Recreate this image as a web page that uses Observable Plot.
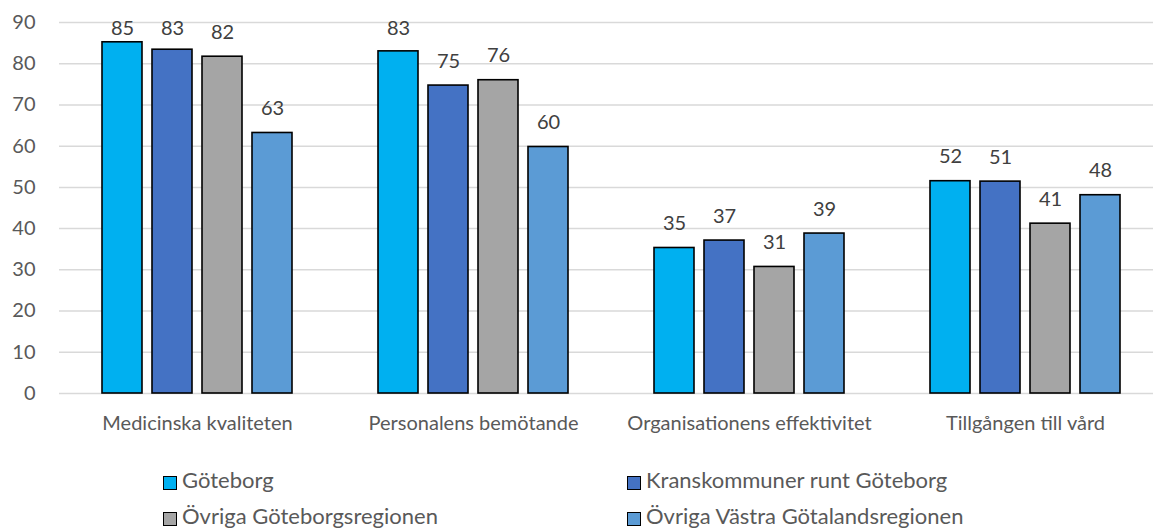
<!DOCTYPE html>
<html>
<head>
<meta charset="utf-8">
<script src="https://cdn.jsdelivr.net/npm/d3@7"></script>
<script src="https://cdn.jsdelivr.net/npm/@observablehq/plot@0.6"></script>
<style>
  html, body { margin: 0; padding: 0; background: #fff; overflow: hidden; }
  #wrap { position: relative; width: 1153px; height: 529px; font-family: Lato, "Open Sans", sans-serif; }
  #wrap svg { overflow: hidden; }
  .leg { position: absolute; display: flex; align-items: flex-start; font-size: 22px; line-height: 22px; height: 22px; color: #595959; white-space: nowrap; }
  .sw { width: 12px; height: 12px; border: 1.5px solid #000; margin-right: 5px; margin-top: 7px; }
</style>
</head>
<body>
<div id="wrap"></div>
<script>
const categories = ["Medicinska kvaliteten", "Personalens bemötande", "Organisationens effektivitet", "Tillgången till vård"];
const series = ["Göteborg", "Kranskommuner runt Göteborg", "Övriga Göteborgsregionen", "Övriga Västra Götalandsregionen"];
const colors = ["#00B0F0", "#4472C4", "#A5A5A5", "#5B9BD5"];
const valGoteborg = [85.2, 83.0, 35.3, 51.5];
const valKrans    = [83.4, 74.7, 37.1, 51.4];
const valOvrGbg   = [81.7, 76.0, 30.7, 41.2];
const valOvrVG    = [63.2, 59.8, 38.8, 48.1];
const yTicks = [0, 10, 20, 30, 40, 50, 60, 70, 80, 90];

const seriesValues = [valGoteborg, valKrans, valOvrGbg, valOvrVG];
const data = [];
series.forEach((s, si) => categories.forEach((c, ci) => data.push({category: c, series: s, si, value: seriesValues[si][ci]})));

const bandW = 276;
const barW = 40;
const offsets = [-75, -25, 25, 75];
const labelMax = 82.6; // labels near the top are held inside the plot area

const marks = [
  Plot.ruleY(yTicks, {stroke: "#d9d9d9", strokeWidth: 1.5})
];
series.forEach((s, si) => {
  const d = data.filter(r => r.si === si);
  const off = offsets[si];
  marks.push(Plot.barY(d, {
    x: "category", y: "value", fill: colors[si], stroke: "#000", strokeWidth: 1.6,
    insetLeft: bandW / 2 + off - barW / 2, insetRight: bandW / 2 - off - barW / 2
  }));
  marks.push(Plot.text(d, {
    x: "category", y: r => Math.min(r.value, labelMax), text: r => d3.format(".0f")(r.value),
    dx: off, dy: -18, lineAnchor: "bottom", fontSize: 20, fill: "#404040"
  }));
});

const chart = Plot.plot({
  width: 1153,
  height: 445,
  marginTop: 22,
  marginBottom: 52,
  marginLeft: 59,
  marginRight: 0,
  style: {fontFamily: "Lato, 'Open Sans', sans-serif", fontSize: "20px", color: "#595959", background: "#fff"},
  x: {domain: categories, range: [59, 59 + 4 * bandW], padding: 0, tickSize: 0, tickPadding: 22, label: null},
  y: {domain: [0, 90], ticks: yTicks, tickSize: 0, tickPadding: 24, label: null},
  marks
});
const wrap = document.getElementById("wrap");
wrap.appendChild(chart);

const legPos = [[163, 469], [627, 469], [163, 505], [627, 505]];
series.forEach((s, i) => {
  const el = document.createElement("div");
  el.className = "leg";
  el.style.left = legPos[i][0] + "px";
  el.style.top = legPos[i][1] + "px";
  el.innerHTML = `<span class="sw" style="background:${colors[i]}"></span><span>${s}</span>`;
  wrap.appendChild(el);
});
</script>
</body>
</html>
